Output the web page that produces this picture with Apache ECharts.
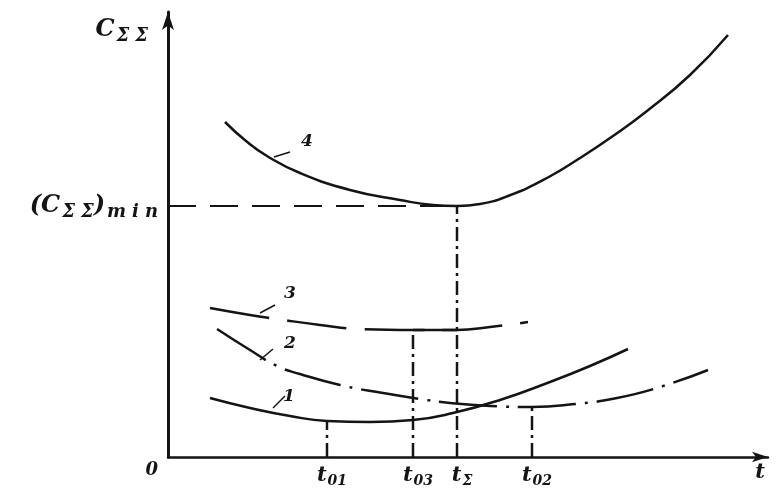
<!DOCTYPE html>
<html>
<head>
<meta charset="utf-8">
<script src="https://cdn.jsdelivr.net/npm/echarts@6/dist/echarts.min.js"></script>
<style>
  html, body { margin: 0; background: #fff; }
  #chart { width: 783px; height: 493px; }
</style>
</head>
<body>
<div id="chart"></div>
<script>
  // curves, [t, C]
  const curve1 = [[42,59],[82,49],[122,41],[159,36],[202,35],[245,37],[285,44],[332,57],[382,75],[422,91],[460,108]];
  const curve2 = [[49,128],[82,107],[109,91],[132,83],[172,72],[215,64],[252,58],[282,54],[322,51],[364,50],[407,53],[449,59],[492,70],[540,87]];
  const curve3 = [[42,149],[82,142],[109,138],[152,132],[192,128],[245,127],[289,127],[322,130],[360,135]];
  const curve4 = [[57,335],[78,316],[99,301],[132,284],[182,267],[232,257],[265,252],[289,251],[312,253],[340,261],[379,279],[412,299],[445,321],[479,346],[522,382],[560,422]];

  // optimum points on the t axis
  const optT = [159, 245, 289, 364];
  const optNames = ['01', '03', 'Σ', '02'];
  const optC = [36, 127, 251, 50];
  const cMin = 251;

  // curve numbers and their leader strokes
  const curveNames = ['1', '2', '3', '4'];
  const namePos = [[121,60],[122,113],[122,163],[139,315]];
  const leaders = [
    [[105,49],[117,61]],
    [[92,97],[105,108]],
    [[92,144],[107,152]],
    [[106,300],[122,305]]
  ];

  const ink = '#141414';
  const face = { fontFamily: 'DejaVu Serif', fontStyle: 'italic', fontWeight: 'bold', color: ink };
  const rich = {
    m: Object.assign({ fontSize: 24 }, face),
    s: Object.assign({ fontSize: 18, padding: [12, 0, 0, 2] }, face),
    w: Object.assign({ fontSize: 18, padding: [12, 0, 0, 6] }, face),
    t: Object.assign({ fontSize: 21 }, face),
    u: Object.assign({ fontSize: 14, padding: [11, 0, 0, 1] }, face),
    z: Object.assign({ fontSize: 18, padding: [26, 0, 0, 0] }, face)
  };

  const chart = echarts.init(document.getElementById('chart'));

  const series = [];
  const addLine = (data, type, width, smooth) => series.push({
    type: 'line', data: data, symbol: 'none', smooth: smooth === undefined ? 0.5 : smooth, silent: true,
    lineStyle: { color: ink, width: width || 2.5, type: type || 'solid' }
  });

  addLine(curve1);
  addLine(curve2, [58, 9, 3, 9]);
  addLine(curve3, [60, 18]);
  addLine(curve4);
  // level of (C)min and the flat piece at the minimum of curve 3
  addLine([[0, cMin], [optT[2], cMin]], [28, 14], 2, false);
  addLine([[optT[1], optC[1]], [optT[2], optC[1]]], 'solid', 2.5, false);
  // drop lines to the t axis
  optT.forEach((t, i) => addLine([[t, 0], [t, optC[i]]], [14, 5, 3, 5], 2.5, false));
  leaders.forEach(l => addLine(l, 'solid', 1.5, false));

  series.push({
    type: 'scatter', symbolSize: 0, silent: true,
    itemStyle: { opacity: 1 },
    data: namePos.map((p, i) => [p[0], p[1], curveNames[i]]),
    label: {
      show: true, position: 'inside', formatter: p => p.value[2],
      fontFamily: 'DejaVu Serif', fontStyle: 'italic', fontWeight: 'bold', fontSize: 17,
      color: ink, textBorderWidth: 0
    }
  });

  chart.setOption({
    backgroundColor: '#fff',
    animation: false,
    grid: { left: 168, right: 15, top: 12, bottom: 36, outerBoundsMode: 'none' },
    xAxis: {
      type: 'value', min: 0, max: 600,
      name: 't', nameLocation: 'end', nameGap: -8,
      nameTextStyle: Object.assign({ fontSize: 21, align: 'center', verticalAlign: 'top', padding: [5, 0, 0, 0] }, face),
      axisLine: { show: true, symbol: ['none', 'arrow'], symbolSize: [8, 16], lineStyle: { color: ink, width: 2.5 } },
      axisTick: { show: false },
      splitLine: { show: false },
      axisLabel: {
        customValues: optT, margin: 6,
        formatter: v => '{t|t}{u|' + optNames[optT.indexOf(v)] + '}',
        padding: [0, 0, 0, 10],
        rich: rich
      }
    },
    yAxis: {
      type: 'value', min: 0, max: 445,
      name: '{m|C}{s|Σ}{w|Σ}', nameLocation: 'end', nameGap: -18,
      nameTextStyle: { align: 'right', verticalAlign: 'middle', padding: [0, 20, 0, 0], rich: rich },
      axisLine: { show: true, symbol: ['none', 'arrow'], symbolSize: [9, 18], lineStyle: { color: ink, width: 3 } },
      axisTick: { show: false },
      splitLine: { show: false },
      axisLabel: {
        customValues: [0, cMin], margin: 10,
        formatter: v => v === 0 ? '{z|0}' : '{m|(C}{s|Σ}{w|Σ}{m|)}{s|m}{w|i}{w|n}',
        rich: rich
      }
    },
    series: series
  });
</script>
</body>
</html>
